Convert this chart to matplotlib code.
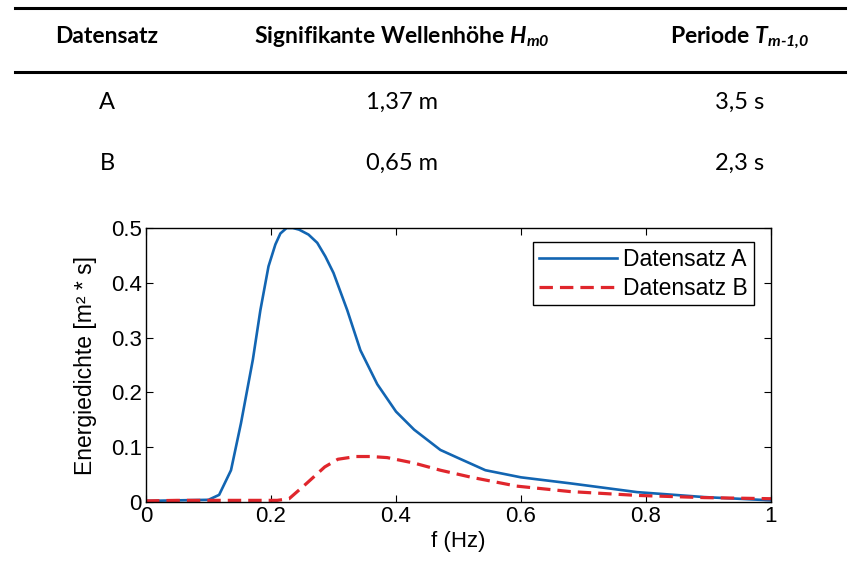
import matplotlib
matplotlib.use('Agg')
import numpy as np
from matplotlib import pyplot as plt

# Tabelle
header = ['Datensatz', 'Signifikante Wellenhöhe $H_{m0}$', 'Periode $T_{m\\text{-}1{,}0}$']
datensatz = ['A', 'B']
hm0 = ['1,37 m', '0,65 m']
tm10 = ['3,5 s', '2,3 s']

# Energiedichtespektren
f_a = [0.0, 0.05, 0.10, 0.117, 0.136, 0.152, 0.171, 0.183, 0.196, 0.207, 0.215, 0.225,
       0.235, 0.245, 0.26, 0.274, 0.287, 0.30, 0.322, 0.343, 0.37, 0.40, 0.429, 0.471,
       0.50, 0.543, 0.60, 0.679, 0.786, 0.893, 1.0]
s_a = [0.002, 0.003, 0.004, 0.013, 0.058, 0.144, 0.26, 0.35, 0.43, 0.47, 0.49, 0.50,
       0.50, 0.497, 0.488, 0.473, 0.448, 0.418, 0.35, 0.277, 0.215, 0.165, 0.132, 0.095,
       0.080, 0.058, 0.045, 0.034, 0.018, 0.009, 0.003]
f_b = [0.0, 0.05, 0.10, 0.15, 0.21, 0.229, 0.257, 0.286, 0.307, 0.336, 0.36, 0.386, 0.429,
       0.471, 0.521, 0.593, 0.679, 0.786, 0.893, 1.0]
s_b = [0.002, 0.003, 0.003, 0.003, 0.003, 0.006, 0.034, 0.064, 0.078, 0.083, 0.083, 0.081,
       0.071, 0.058, 0.045, 0.029, 0.019, 0.012, 0.008, 0.006]

plt.rcParams['mathtext.fontset'] = 'custom'
plt.rcParams['mathtext.it'] = 'Lato:italic:bold'
plt.rcParams['mathtext.rm'] = 'Lato:italic:bold'
plt.rcParams['mathtext.bf'] = 'Lato:italic:bold'

W, H = 859, 574
fig = plt.figure(figsize=(W / 100, H / 100), dpi=100)

tfont = ['Lato', 'DejaVu Sans']
col_x = [107 / W, 402 / W, 740 / W]
for yl in [8, 72]:
    fig.add_artist(plt.Line2D([15 / W, 845 / W], [1 - yl / H] * 2, color='k', lw=2.2))
for x, h in zip(col_x, header):
    fig.text(x, 1 - 43 / H, h, ha='center', va='baseline', fontsize=16.5,
             fontweight='bold', family=tfont)
for i, y in enumerate([109, 170]):
    for x, t in zip(col_x, [datensatz[i], hm0[i], tm10[i]]):
        fig.text(x, 1 - y / H, t, ha='center', va='baseline', fontsize=17, family=tfont)

afont = 'Liberation Sans'
ax = fig.add_axes([146 / W, 1 - 502 / H, 625 / W, 274 / H])
ax.plot(f_a, s_a, color='#1265b2', lw=1.9, label='Datensatz A')
ax.plot(f_b, s_b, color='#e0262c', lw=2.3, ls=(0, (4.2, 2.2)), label='Datensatz B')
ax.set_xlim(0, 1)
ax.set_ylim(0, 0.5)
ax.set_xticks(np.arange(0, 1.01, 0.2))
ax.set_xticklabels(['0', '0.2', '0.4', '0.6', '0.8', '1'])
ax.set_yticks(np.arange(0, 0.51, 0.1))
ax.set_yticklabels(['0', '0.1', '0.2', '0.3', '0.4', '0.5'])
ax.tick_params(direction='in', top=True, right=True, length=5, labelsize=16, pad=3)
for lab in ax.get_xticklabels() + ax.get_yticklabels():
    lab.set_family(afont)
for sp in ax.spines.values():
    sp.set_linewidth(1.0)
ax.set_xlabel('f (Hz)', fontsize=16, family=afont, labelpad=3)
ax.set_ylabel('Energiedichte [m² * s]', fontsize=16.5, family=afont, labelpad=10)
leg = ax.legend(loc='upper right', bbox_to_anchor=(0.98, 0.965), fancybox=False,
                edgecolor='k', framealpha=1, prop={'family': afont, 'size': 16.5},
                handlelength=3.4, handletextpad=0.3, borderpad=0.25, labelspacing=0.25,
                borderaxespad=0.2)
leg.get_frame().set_linewidth(1.0)

fig.savefig('out.png', dpi=100)
